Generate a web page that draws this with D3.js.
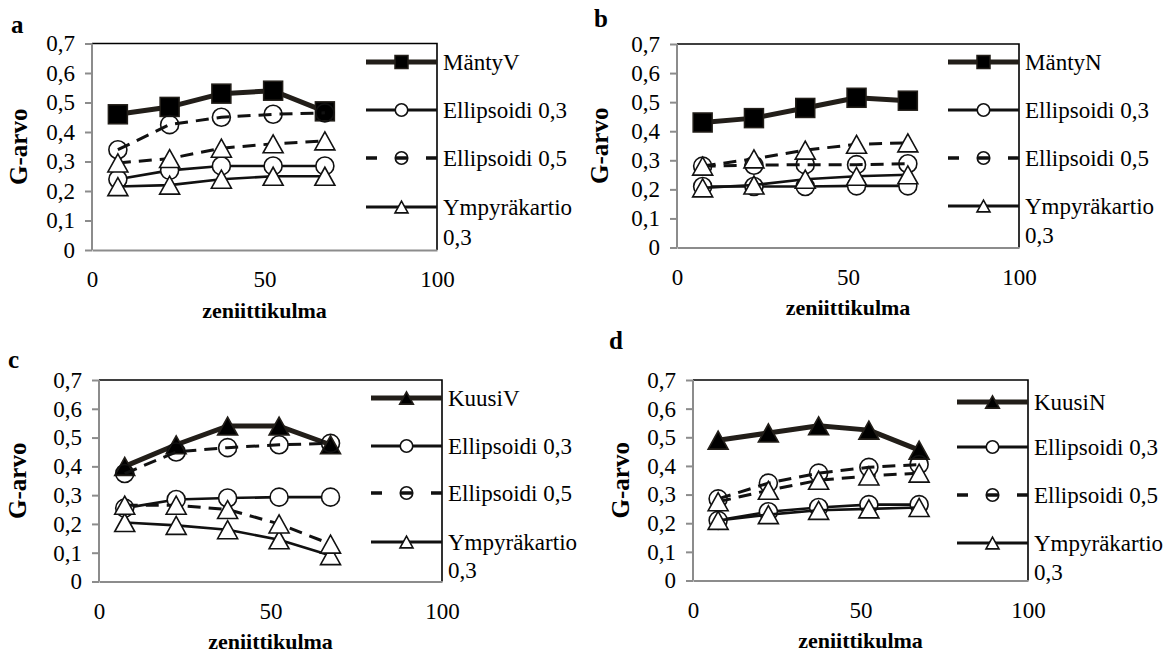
<!DOCTYPE html>
<html>
<head>
<meta charset="utf-8">
<script src="https://cdn.jsdelivr.net/npm/d3@7"></script>
<style>
  html, body { margin: 0; padding: 0; background: #fff; }
  svg text { font-family: 'Liberation Serif', 'Times New Roman', Tinos, 'DejaVu Serif', serif; }
</style>
</head>
<body>
<svg id="chart" width="1174" height="654"></svg>
<script>
// Zenith angles (degrees) shared by all panels
const zenithAngles = [7.5, 22.5, 37.5, 52.5, 67.5];
const xTicks = [0, 50, 100];
const yTicks = [0, 0.1, 0.2, 0.3, 0.4, 0.5, 0.6, 0.7];
const modelNames = ["Ellipsoidi 0,3", "Ellipsoidi 0,5", "Ympyräkartio 0,3", "Ympyräkartio 0,5"];
const panelLetters = ["a", "b", "c", "d"];
const measuredNames = ["MäntyV", "MäntyN", "KuusiV", "KuusiN"];

// Panel a: MäntyV
const mantyV = [0.46, 0.485, 0.53, 0.54, 0.47];
const aEllipsoidi03 = [0.24, 0.27, 0.285, 0.285, 0.285];
const aEllipsoidi05 = [0.34, 0.425, 0.45, 0.46, 0.465];
const aKartio03 = [0.215, 0.22, 0.24, 0.25, 0.25];
const aKartio05 = [0.295, 0.31, 0.345, 0.36, 0.37];

// Panel b: MäntyN
const mantyN = [0.43, 0.445, 0.48, 0.515, 0.505];
const bEllipsoidi03 = [0.21, 0.21, 0.21, 0.212, 0.212];
const bEllipsoidi05 = [0.28, 0.283, 0.285, 0.285, 0.288];
const bKartio03 = [0.205, 0.215, 0.235, 0.245, 0.25];
const bKartio05 = [0.28, 0.305, 0.335, 0.355, 0.36];

// Panel c: KuusiV
const kuusiV = [0.40, 0.475, 0.54, 0.54, 0.475];
const cEllipsoidi03 = [0.255, 0.285, 0.29, 0.293, 0.293];
const cEllipsoidi05 = [0.375, 0.45, 0.465, 0.475, 0.48];
const cKartio03 = [0.205, 0.195, 0.18, 0.145, 0.09];
const cKartio05 = [0.265, 0.265, 0.25, 0.2, 0.13];

// Panel d: KuusiN
const kuusiN = [0.49, 0.515, 0.54, 0.525, 0.455];
const dEllipsoidi03 = [0.21, 0.24, 0.255, 0.265, 0.265];
const dEllipsoidi05 = [0.285, 0.34, 0.375, 0.395, 0.405];
const dKartio03 = [0.21, 0.23, 0.245, 0.25, 0.255];
const dKartio05 = [0.275, 0.315, 0.35, 0.365, 0.375];

const panelData = [
  [mantyV, aEllipsoidi03, aEllipsoidi05, aKartio03, aKartio05],
  [mantyN, bEllipsoidi03, bEllipsoidi05, bKartio03, bKartio05],
  [kuusiV, cEllipsoidi03, cEllipsoidi05, cKartio03, cKartio05],
  [kuusiN, dEllipsoidi03, dEllipsoidi05, dKartio03, dKartio05]
];

// Plot frame of each panel (pixels)
const frames = [
  { left: 92,  right: 437,  top: 43.5, bottom: 250,   letterX: 11,  letterY: 33,  titleX: 19,  legendRows: [62, 110, 158, 207, 237] },
  { left: 677, right: 1019, top: 44,   bottom: 247.5, letterX: 594, letterY: 27,  titleX: 600, legendRows: [62, 110, 158, 206, 235] },
  { left: 99,  right: 442,  top: 380,  bottom: 581.5, letterX: 8,   letterY: 368, titleX: 18,  legendRows: [398, 446, 493, 542, 570] },
  { left: 693, right: 1028, top: 380,  bottom: 580.5, letterX: 609, letterY: 349, titleX: 621, legendRows: [402, 447, 495, 543, 572] }
];

const MAIN = "#221e19";
const INK = "#111";
const AXIS_GREY = "#8c8c8c";
const SERIF = "'Liberation Serif', 'Times New Roman', Tinos, 'DejaVu Serif', serif";
const FS = 23;
const TICK_FS = 23;
const fmt = v => d3.format(".1~f")(v).replace(".", ",");

const svg = d3.select("#chart");

// Marker painters: draw a marker of size s centred on the origin of g
function square(g, s, fill) {
  g.append("rect").attr("x", -s / 2).attr("y", -s / 2).attr("width", s).attr("height", s)
    .attr("fill", fill).attr("stroke", MAIN).attr("stroke-width", 1.5);
}
function circle(g, s, fill) {
  g.append("circle").attr("r", s / 2).attr("fill", fill).attr("stroke", INK).attr("stroke-width", 1.6);
}
function triangle(g, w, fill, stroke) {
  const h = w * 0.9;
  g.append("path").attr("d", `M0,${-h / 2}L${w / 2},${h / 2}L${-w / 2},${h / 2}Z`)
    .attr("fill", fill).attr("stroke", stroke).attr("stroke-width", 1.6).attr("stroke-linejoin", "miter");
}

// Series styles: index 0 measured, then the four models
function seriesStyles(panelIndex) {
  const measuredMarker = panelIndex < 2
    ? (g, s) => square(g, s, "#000")
    : (g, s) => triangle(g, s * 1.05, "#000", MAIN);
  return [
    { width: 5,   dash: null,   color: MAIN, marker: measuredMarker, size: 19, legendSize: 13 },
    { width: 2.6, dash: null,   color: INK,  marker: (g, s) => circle(g, s, "#fff"), size: 18, legendSize: 12.5 },
    { width: 3,   dash: "13,8", color: INK,  marker: (g, s) => circle(g, s, "none"), size: 18, legendSize: 12.5, legendDash: "11,19" },
    { width: 2.6, dash: null,   color: INK,  marker: (g, s) => triangle(g, s, "#fff", INK), size: 20, legendSize: 13 },
    { width: 3,   dash: "13,8", color: INK,  marker: (g, s) => triangle(g, s, "#fff", INK), size: 20, legendSize: 13 }
  ];
}

frames.forEach((f, pi) => {
  const x = d3.scaleLinear().domain([0, 100]).range([f.left, f.right]);
  const y = d3.scaleLinear().domain([0, 0.7]).range([f.bottom, f.top]);
  const g = svg.append("g");
  const styles = seriesStyles(pi);
  const names = [measuredNames[pi]].concat(modelNames);

  // Top and right frame lines
  g.append("path")
    .attr("d", `M${f.left},${f.top}H${f.right}V${f.bottom}`)
    .attr("fill", "none").attr("stroke", "#000").attr("stroke-width", 1.6);

  // Y axis (grey line with outward ticks)
  const yAxis = d3.axisLeft(y).tickValues(yTicks).tickFormat(fmt).tickSize(7).tickPadding(10);
  const ya = g.append("g").attr("transform", `translate(${f.left},0)`).call(yAxis);
  ya.select(".domain").attr("stroke", AXIS_GREY).attr("stroke-width", 2).attr("d", `M0,${f.bottom}V${f.top}`);
  ya.selectAll(".tick line").attr("stroke", AXIS_GREY).attr("stroke-width", 2);
  ya.selectAll(".tick text").attr("fill", "#000").attr("font-size", TICK_FS).style("font-family", SERIF);

  // X axis: grey baseline, labels set well below it
  const xAxis = d3.axisBottom(x).tickValues(xTicks).tickFormat(d3.format("d")).tickSize(0).tickPadding(21);
  const xa = g.append("g").attr("transform", `translate(0,${f.bottom})`).call(xAxis);
  xa.select(".domain").attr("stroke", AXIS_GREY).attr("stroke-width", 2);
  xa.selectAll(".tick text").attr("fill", "#000").attr("font-size", TICK_FS).style("font-family", SERIF);

  // Axis titles and panel letter
  g.append("text").attr("x", (f.left + f.right) / 2).attr("y", f.bottom + 67.5)
    .attr("text-anchor", "middle").attr("font-weight", "bold").attr("font-size", 22)
    .style("font-family", SERIF).text("zeniittikulma");
  g.append("text")
    .attr("transform", `translate(${f.titleX + 8},${(f.top + f.bottom) / 2}) rotate(-90)`)
    .attr("text-anchor", "middle").attr("font-weight", "bold").attr("font-size", 25)
    .style("font-family", SERIF).text("G-arvo");
  g.append("text").attr("x", f.letterX).attr("y", f.letterY)
    .attr("font-weight", "bold").attr("font-size", 25)
    .style("font-family", SERIF).text(panelLetters[pi]);

  // Series lines and markers, drawn in series order
  const line = d3.line().x((d, i) => x(zenithAngles[i])).y(d => y(d));
  panelData[pi].forEach((vals, si) => {
    const st = styles[si];
    g.append("path").datum(vals).attr("d", line)
      .attr("fill", "none").attr("stroke", st.color).attr("stroke-width", st.width)
      .attr("stroke-dasharray", st.dash).attr("stroke-linejoin", "round");
    vals.forEach((v, i) => {
      const m = g.append("g").attr("transform", `translate(${x(zenithAngles[i])},${y(v)})`);
      st.marker(m, st.size);
    });
  });

  // Legend (the fifth entry falls outside the visible area)
  const lx0 = f.right - 71, lx1 = f.right, mx = f.right - 35.5;
  for (let si = 0; si < 4; si++) {
    const st = styles[si];
    const ly = f.legendRows[si];
    g.append("line").attr("x1", lx0).attr("x2", lx1).attr("y1", ly).attr("y2", ly)
      .attr("stroke", st.color).attr("stroke-width", st.width + (si === 0 ? 0 : 0.4))
      .attr("stroke-dasharray", st.legendDash || null);
    const m = g.append("g").attr("transform", `translate(${mx},${ly})`);
    st.marker(m, st.legendSize);
    const label = names[si];
    const t = g.append("text").attr("x", f.right + 6).attr("y", ly)
      .attr("dy", "0.35em").attr("font-size", FS).style("font-family", SERIF);
    if (si === 3) {
      const parts = label.split(" ");
      t.text(parts[0]);
      g.append("text").attr("x", f.right + 6).attr("y", f.legendRows[4])
        .attr("dy", "0.35em").attr("font-size", FS).style("font-family", SERIF).text(parts[1]);
    } else {
      t.text(label);
    }
  }
});
</script>
</body>
</html>
